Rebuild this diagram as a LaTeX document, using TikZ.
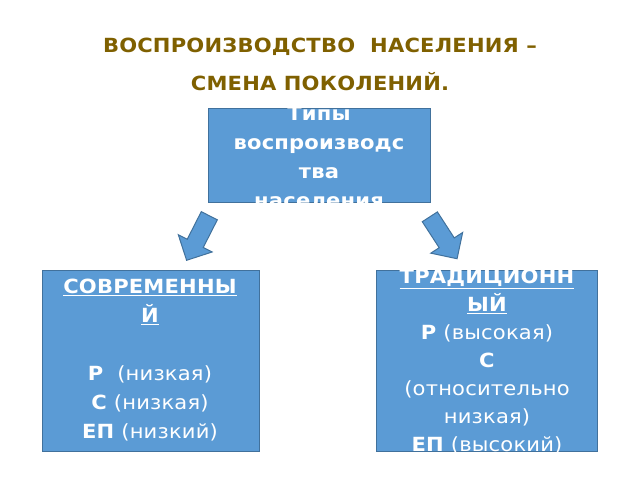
\documentclass[tikz,border=0pt]{standalone}
\usepackage{fontspec}
\setmainfont{DejaVu Sans}[FakeStretch=1.08,LetterSpace=1]
\usetikzlibrary{shapes.arrows}
\definecolor{boxblue}{HTML}{5B9BD5}
\definecolor{boxline}{HTML}{41719C}
\definecolor{titlebrown}{HTML}{7F6000}
\tikzset{
  btext/.style = {text=white, align=center, font=\fontsize{19.5}{29}\selectfont},
  bblock/.style = {draw=boxline, fill=boxblue, line width=1pt},
  barrow/.style = {single arrow, draw=boxline, fill=boxblue, line width=1pt,
    minimum width=38pt, single arrow head extend=5pt, minimum height=50pt,
    inner sep=4pt}
}
\begin{document}
\begin{tikzpicture}[x=1pt,y=-1pt]
  \useasboundingbox (0,0) rectangle (640,480);
  % title
  \node (Title) [text=titlebrown, align=center, font=\fontsize{19.5}{38}\selectfont\bfseries]
    at (320,64) {ВОСПРОИЗВОДСТВО \ НАСЕЛЕНИЯ --\\СМЕНА ПОКОЛЕНИЙ.};
  % boxes
  \draw [bblock] (208,108) rectangle (430,202);
  \draw [bblock] (42,270) rectangle (259,451);
  \draw [bblock] (376,270) rectangle (597,451);
  \begin{scope}
    \clip (208,108) rectangle (430,202);
    \node (Types) [btext, font=\fontsize{19.5}{29}\selectfont\bfseries] at (319,157)
      {Типы\\воспроизводс\\тва\\населения};
  \end{scope}
  \begin{scope}
    \clip (42,270) rectangle (259,451);
    \node (Modern) [btext] at (150,360)
      {\textbf{\underline{СОВРЕМЕННЫ}}\\\textbf{\underline{Й}}\\[0pt]\mbox{}\\
       \textbf{Р} \ (низкая)\\\textbf{С} (низкая)\\\textbf{ЕП} (низкий)};
  \end{scope}
  \begin{scope}
    \clip (376,270) rectangle (597,451);
    \node (Trad) [btext, font=\fontsize{19.5}{28}\selectfont] at (487,362)
      {\textbf{\underline{ТРАДИЦИОНН}}\\\textbf{\underline{ЫЙ}}\\\textbf{Р} (высокая)\\
       \textbf{С}\\(относительно\\низкая)\\\textbf{ЕП} (высокий)};
  \end{scope}
  % arrows
  \node (ArrL) [barrow, rotate=-117] at (200,234) {};
  \node (ArrR) [barrow, rotate=-57] at (441,234) {};
\end{tikzpicture}
\end{document}
